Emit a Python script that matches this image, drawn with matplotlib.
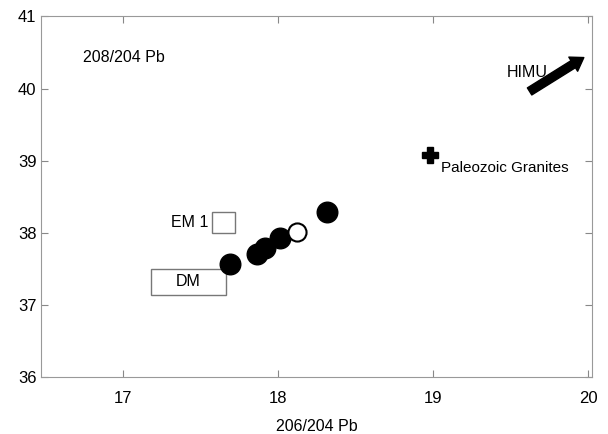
import numpy as np
import matplotlib.pyplot as plt
from matplotlib.patches import Rectangle

plt.rcParams['font.family'] = ['Liberation Sans', 'DejaVu Sans']

# samples (206/204 Pb, 208/204 Pb)
pb206 = [17.69, 17.86, 17.91, 18.01, 18.31]
pb208 = [37.57, 37.71, 37.78, 37.92, 38.29]
open_206 = [18.12]
open_208 = [38.01]
granite_206 = [18.98]
granite_208 = [39.08]

# end-member fields: (x0, x1, y0, y1)
em1_box = (17.57, 17.72, 37.99, 38.28)
dm_box = (17.18, 17.66, 37.14, 37.49)
himu_tail = (19.62, 39.96)
himu_head = (19.97, 40.43)

fig, ax = plt.subplots(figsize=(6.08, 4.34), dpi=100)
fig.subplots_adjust(left=0.068, right=0.973, bottom=0.132, top=0.962)

ax.scatter(pb206, pb208, s=220, c='black', edgecolors='black', zorder=3)
ax.scatter(open_206, open_208, s=170, c='white', edgecolors='black', linewidths=1.5, zorder=3)
ax.plot(granite_206, granite_208, marker='P', ms=11, color='black', ls='none')

for (x0, x1, y0, y1) in [em1_box, dm_box]:
    ax.add_patch(Rectangle((x0, y0), x1 - x0, y1 - y0, fill=False, edgecolor='#777777', lw=1))

ax.text((dm_box[0] + dm_box[1]) / 2, (dm_box[2] + dm_box[3]) / 2, 'DM',
        ha='center', va='center', fontsize=11.5)
ax.text(em1_box[0] - 0.02, (em1_box[2] + em1_box[3]) / 2, 'EM 1',
        ha='right', va='center', fontsize=11.5)
ax.text(granite_206[0] + 0.07, granite_208[0] - 0.18, 'Paleozoic Granites',
        ha='left', va='center', fontsize=11)

ax.annotate('', xy=himu_head, xytext=himu_tail,
            arrowprops=dict(arrowstyle='simple,head_length=0.9,head_width=1.2,tail_width=0.6',
                            color='black', shrinkA=0, shrinkB=0))
ax.text(19.74, 40.22, 'HIMU', ha='right', va='center', fontsize=11.5)

ax.text(16.74, 40.43, '208/204 Pb', ha='left', va='center', fontsize=11.5)

ax.set_xlim(16.47, 20.02)
ax.set_ylim(36, 41)
ax.set_xticks([17, 18, 19, 20])
ax.set_yticks([36, 37, 38, 39, 40, 41])
ax.tick_params(direction='in', top=True, right=True, labelsize=12, color='#888888', length=5)
ax.tick_params(axis='x', pad=10)
for sp in ax.spines.values():
    sp.set_color('#999999')
ax.set_xlabel('206/204 Pb', fontsize=11.5, labelpad=10)

plt.savefig('out.png')
